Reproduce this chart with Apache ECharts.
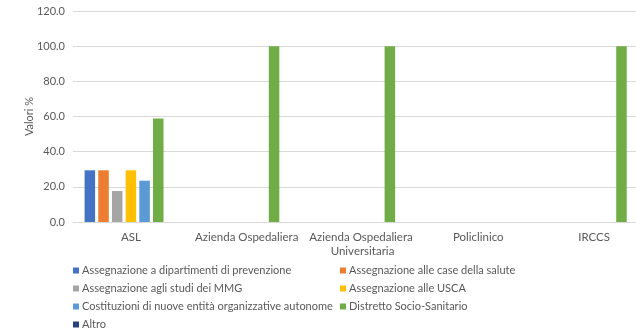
<!DOCTYPE html>
<html>
<head>
<meta charset="utf-8">
<script src="https://cdn.jsdelivr.net/npm/echarts@6/dist/echarts.min.js"></script>
<style>
  html, body { margin: 0; padding: 0; background: #fff; }
  #chart { width: 636px; height: 332px; }
</style>
</head>
<body>
<div id="chart"></div>
<script>
// Tipologie di struttura sull'asse delle categorie
const categories = ['ASL', 'Azienda Ospedaliera', 'Azienda Ospedaliera Universitaria', 'Policlinico', 'IRCCS'];

// Valori percentuali per ciascuna modalità di impiego
const dipartimentiPrevenzione = [29.4, 0, 0, 0, 0];
const caseDellaSalute        = [29.4, 0, 0, 0, 0];
const studiMMG               = [17.6, 0, 0, 0, 0];
const usca                   = [29.4, 0, 0, 0, 0];
const nuoveEntita            = [23.5, 0, 0, 0, 0];
const distretto              = [58.8, 100.0, 100.0, 0, 100.0];
const altro                  = [0, 0, 0, 0, 0];

// Etichette dell'asse dei valori
const yTicks = [0, 20, 40, 60, 80, 100, 120];

const seriesNames = [
  'Assegnazione a dipartimenti di prevenzione',
  'Assegnazione alle case della salute',
  'Assegnazione agli studi dei MMG',
  'Assegnazione alle USCA',
  'Costituzioni di nuove entità organizzative autonome',
  'Distretto Socio-Sanitario',
  'Altro'
];
const seriesData = [dipartimentiPrevenzione, caseDellaSalute, studiMMG, usca, nuoveEntita, distretto, altro];
const colors = ['#4472C4', '#ED7D31', '#A5A5A5', '#FFC000', '#5B9BD5', '#70AD47', '#264478'];

const font = 'Lato, "DejaVu Sans", sans-serif';
const textColor = '#595959';

const chart = echarts.init(document.getElementById('chart'), null, { renderer: 'canvas' });

const legendCommon = {
  orient: 'vertical',
  top: 265,
  itemWidth: 6,
  itemHeight: 6,
  itemGap: 7,
  icon: 'rect',
  textStyle: { color: textColor, fontFamily: font, fontSize: 11, padding: [0, 0, 0, -2] },
  padding: 0
};

chart.setOption({
  animation: false,
  color: colors,
  // the plot area runs slightly past the right edge of the canvas
  grid: { left: 73, width: 579, top: 11, height: 211, containLabel: false, outerBoundsMode: 'none' },
  legend: [
    Object.assign({}, legendCommon, { left: 73, data: [seriesNames[0], seriesNames[2], seriesNames[4], seriesNames[6]] }),
    Object.assign({}, legendCommon, { left: 340, data: [seriesNames[1], seriesNames[3], seriesNames[5]] })
  ],
  xAxis: {
    type: 'category',
    data: categories,
    axisLine: { lineStyle: { color: '#D9D9D9', width: 1 } },
    axisTick: { show: false },
    axisLabel: {
      color: textColor,
      fontFamily: font,
      fontSize: 11.5,
      margin: 8,
      interval: 0,
      width: 114,
      overflow: 'break',
      lineHeight: 14
    }
  },
  yAxis: {
    type: 'value',
    min: yTicks[0],
    max: yTicks[yTicks.length - 1],
    interval: yTicks[1] - yTicks[0],
    name: 'Valori %',
    nameLocation: 'middle',
    nameRotate: 90,
    nameGap: 38,
    nameMoveOverlap: false,
    nameTextStyle: { color: textColor, fontFamily: font, fontSize: 11 },
    axisLine: { show: false },
    axisTick: { show: false },
    axisLabel: {
      color: textColor,
      fontFamily: font,
      fontSize: 11,
      margin: 8,
      formatter: v => v.toFixed(1)
    },
    splitLine: { lineStyle: { color: '#D9D9D9', width: 1 } }
  },
  series: seriesNames.map((name, i) => ({
    name,
    type: 'bar',
    data: seriesData[i],
    barGap: '30%',
    barCategoryGap: '20%',
    itemStyle: { color: colors[i] }
  }))
});
</script>
</body>
</html>
